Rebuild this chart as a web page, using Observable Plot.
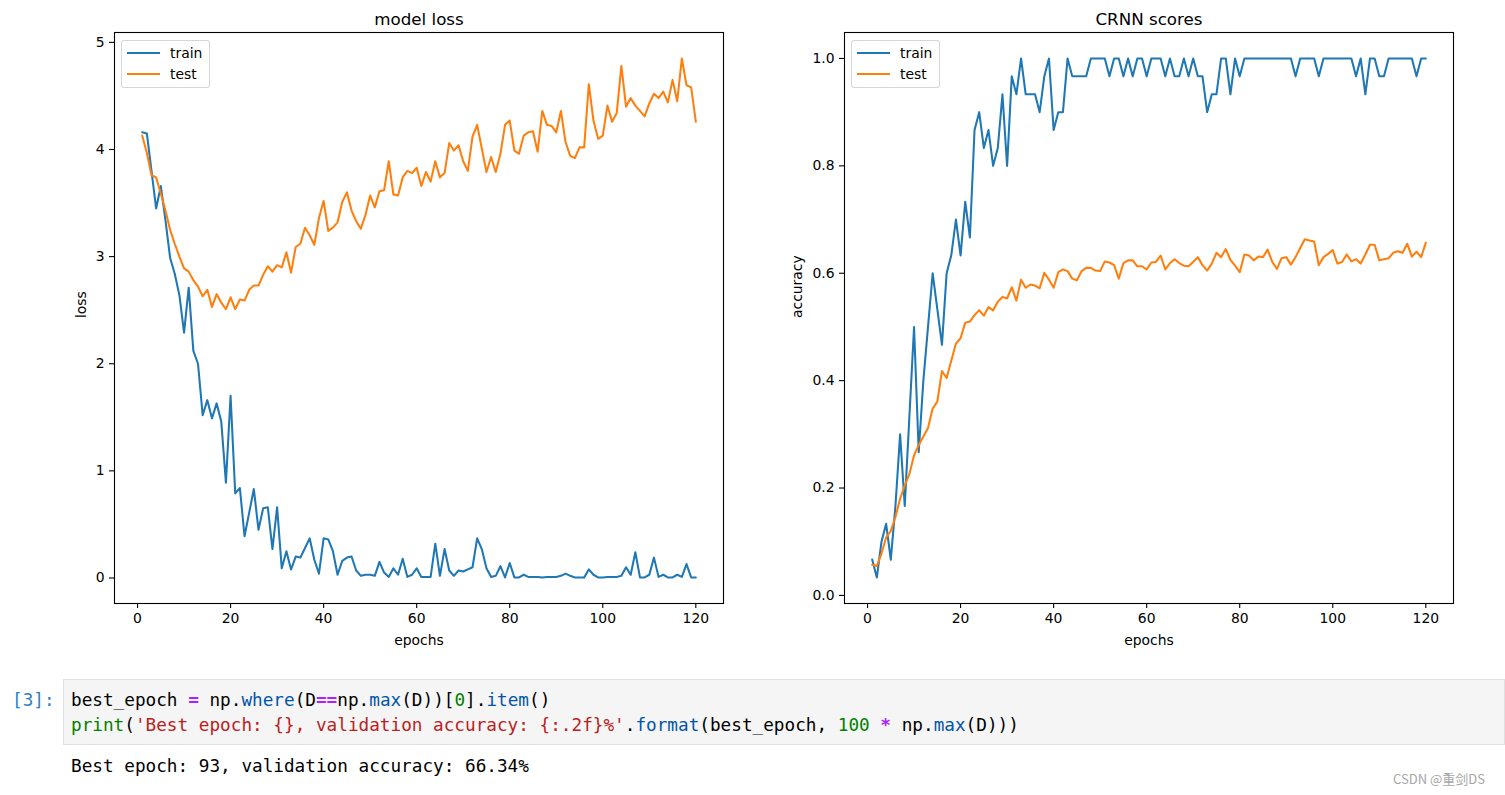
<!DOCTYPE html>
<html><head><meta charset="utf-8">
<script src="https://cdn.jsdelivr.net/npm/d3@7"></script>
<script src="https://cdn.jsdelivr.net/npm/@observablehq/plot@0.6"></script>
<style>
body{margin:0;background:#fff;width:1505px;height:795px;overflow:hidden;position:relative;font-family:"DejaVu Sans",sans-serif;color:#000}
#left{position:absolute;left:0;top:0}
#right{position:absolute;left:760px;top:0}
.legend{position:absolute;background:rgba(255,255,255,0.8);border:1px solid rgba(204,204,204,0.8);border-radius:3px;box-sizing:border-box;font-size:13.9px;width:89px;height:48px;top:40px}
.legend .sw{position:absolute;left:5px;width:33px;height:2px}
.legend .lb{position:absolute;left:48px;line-height:16px;white-space:nowrap}
.mono{font-family:"DejaVu Sans Mono",monospace;font-size:17.7px;line-height:25px;white-space:pre}
#prompt{position:absolute;left:12px;top:688px;color:#307fc1}
#cell{position:absolute;left:63px;top:679px;width:1442px;height:66px;background:#f5f5f5;border:1px solid #e0e0e0;box-sizing:border-box}
#cell pre{margin:0;position:absolute;left:7px;top:8px}
#out{position:absolute;left:71px;top:754px}
.o{color:#aa22ff;font-weight:bold}.p{color:#0055aa}.n{color:#008000}.b{color:#008000}.s{color:#ba2121}
#wm{position:absolute;left:1393px;top:769px;font-family:"Noto Sans CJK SC",sans-serif;font-size:13px;color:#a6a6a6;white-space:nowrap}
</style>
</head><body>
<div id="left"></div>
<div id="right"></div>
<div class="legend" style="left:121px"><div class="sw" style="top:11px;background:#1f77b4"></div><span class="lb" style="top:4px">train</span><div class="sw" style="top:32px;background:#ff7f0e"></div><span class="lb" style="top:25px">test</span></div>
<div class="legend" style="left:851px"><div class="sw" style="top:11px;background:#1f77b4"></div><span class="lb" style="top:4px">train</span><div class="sw" style="top:32px;background:#ff7f0e"></div><span class="lb" style="top:25px">test</span></div>
<div id="prompt" class="mono">[3]:</div>
<div id="cell"><pre class="mono">best_epoch <span class="o">=</span> np.<span class="p">where</span>(D<span class="o">==</span>np.<span class="p">max</span>(D))[<span class="n">0</span>].<span class="p">item</span>()
<span class="b">print</span>(<span class="s">'Best epoch: {}, validation accuracy: {:.2f}%'</span>.<span class="p">format</span>(best_epoch, <span class="n">100</span> <span class="o">*</span> np.<span class="p">max</span>(D)))</pre></div>
<div id="out" class="mono">Best epoch: 93, validation accuracy: 66.34%</div>
<div id="wm">CSDN @重剑DS</div>
<script>
const lossTrain = [4.16,4.15,3.80,3.45,3.66,3.34,2.99,2.84,2.64,2.29,2.71,2.12,2.00,1.52,1.66,1.49,1.63,1.46,0.89,1.70,
0.79,0.84,0.39,0.61,0.83,0.45,0.65,0.66,0.27,0.66,0.09,0.25,0.08,0.20,0.19,0.28,0.37,0.17,0.04,0.37,
0.36,0.25,0.03,0.16,0.19,0.20,0.07,0.02,0.03,0.03,0.02,0.15,0.05,0.01,0.09,0.03,0.18,0.01,0.03,0.09,
0.01,0.01,0.01,0.32,0.02,0.27,0.07,0.02,0.07,0.06,0.08,0.10,0.37,0.27,0.09,0.01,0.02,0.11,0.005,0.14,
0.005,0.005,0.03,0.01,0.01,0.01,0.004,0.01,0.01,0.01,0.02,0.04,0.02,0.005,0.004,0.004,0.08,0.03,0.005,0.005,
0.01,0.01,0.01,0.02,0.10,0.03,0.24,0.005,0.005,0.03,0.19,0.01,0.03,0.005,0.005,0.03,0.01,0.13,0.005,0.004];
const lossTest = [4.13,3.97,3.76,3.74,3.59,3.43,3.25,3.12,3.00,2.89,2.86,2.78,2.72,2.63,2.69,2.53,2.65,2.57,2.51,2.62,
2.51,2.60,2.59,2.69,2.73,2.73,2.83,2.91,2.86,2.92,2.90,3.04,2.85,3.09,3.12,3.27,3.20,3.11,3.36,3.52,
3.24,3.27,3.32,3.51,3.60,3.43,3.33,3.26,3.39,3.57,3.46,3.61,3.62,3.89,3.58,3.57,3.74,3.80,3.78,3.83,
3.66,3.79,3.70,3.89,3.74,3.78,4.06,3.99,4.04,3.89,3.80,4.12,4.23,4.01,3.79,3.93,3.79,3.96,4.23,4.27,
3.99,3.96,4.13,4.16,4.17,3.98,4.36,4.23,4.22,4.16,4.36,4.07,3.94,3.92,4.02,4.02,4.61,4.27,4.10,4.13,
4.41,4.26,4.34,4.78,4.40,4.48,4.41,4.36,4.31,4.43,4.52,4.48,4.54,4.44,4.65,4.45,4.85,4.60,4.58,4.26];
const accTrain = [0.0667,0.0333,0.1,0.1333,0.0667,0.1667,0.3,0.1667,0.3333,0.5,0.2667,0.4,0.5,0.6,0.5333,0.4667,0.6,0.6333,0.7,0.6333,
0.7333,0.6667,0.8667,0.9,0.8333,0.8667,0.8,0.8333,0.9333,0.8,0.9667,0.9333,1,0.9333,0.9333,0.9333,0.9,0.9667,1,0.8667,
0.9,0.9,1,0.9667,0.9667,0.9667,0.9667,1,1,1,1,0.9667,1,1,0.9667,1,0.9667,1,1,0.9667,
1,1,1,0.9667,1,0.9667,0.9667,1,0.9667,1,0.9667,0.9667,0.9,0.9333,0.9333,1,1,0.9333,1,0.9667,
1,1,1,1,1,1,1,1,1,1,1,0.9667,1,1,1,1,0.9667,1,1,1,
1,1,1,1,0.9667,1,0.9333,1,1,0.9667,0.9667,1,1,1,1,1,1,0.9667,1,1];
const accTest = [0.057,0.055,0.078,0.108,0.12,0.146,0.18,0.205,0.226,0.261,0.28,0.296,0.312,0.348,0.361,0.418,0.405,0.437,0.469,0.479,
0.508,0.51,0.522,0.531,0.521,0.537,0.531,0.547,0.556,0.553,0.574,0.549,0.588,0.573,0.579,0.577,0.572,0.601,0.588,0.573,
0.602,0.607,0.604,0.59,0.587,0.604,0.61,0.61,0.605,0.604,0.622,0.62,0.615,0.59,0.619,0.624,0.624,0.613,0.613,0.607,
0.62,0.621,0.633,0.607,0.619,0.626,0.619,0.614,0.613,0.621,0.63,0.615,0.605,0.618,0.638,0.63,0.645,0.625,0.614,0.602,
0.635,0.633,0.624,0.631,0.63,0.644,0.621,0.608,0.628,0.63,0.616,0.63,0.647,0.6634,0.661,0.659,0.615,0.63,0.636,0.643,
0.618,0.621,0.635,0.622,0.626,0.618,0.635,0.653,0.653,0.624,0.626,0.628,0.638,0.641,0.638,0.655,0.631,0.64,0.63,0.657];
const xTicks = [0,20,40,60,80,100,120];
const lossTicks = [0,1,2,3,4,5];
const accTicks = [0,0.2,0.4,0.6,0.8,1.0];
const seriesColors = {train:"#1f77b4", test:"#ff7f0e"};

function pad(vals){const lo=d3.min(vals),hi=d3.max(vals),r=hi-lo;return [lo-0.05*r,hi+0.05*r];}
const toRows = arr => arr.map((v,i)=>({epoch:i+1, value:v}));
const n = lossTrain.length;
const xDomain = [1-0.05*(n-1), n+0.05*(n-1)];

function chart({train,test,title,ylabel,yTicks,yFmt,width,ml,mr}){
  return Plot.plot({
    width, height:660, marginLeft:ml, marginRight:mr, marginTop:32, marginBottom:57,
    style:{fontFamily:"DejaVu Sans", fontSize:"13.9px", color:"#000", background:"transparent", overflow:"visible"},
    x:{domain:xDomain},
    y:{domain:pad(train.concat(test))},
    marks:[
      Plot.line(toRows(train),{x:"epoch",y:"value",stroke:seriesColors.train,strokeWidth:2.05}),
      Plot.line(toRows(test),{x:"epoch",y:"value",stroke:seriesColors.test,strokeWidth:2.05}),
      Plot.frame({stroke:"#000",strokeWidth:1.1}),
      Plot.axisX({ticks:xTicks,tickSize:5,tickPadding:5,label:null,tickFormat:d=>String(d),strokeWidth:1.1}),
      Plot.axisY({ticks:yTicks,tickSize:5,tickPadding:5,label:null,tickFormat:yFmt,strokeWidth:1.1}),
      Plot.text([title],{frameAnchor:"top",text:d=>d,lineAnchor:"bottom",dy:-8,fontSize:16.7}),
      Plot.text(["epochs"],{frameAnchor:"bottom",text:d=>d,lineAnchor:"bottom",dy:41,fontSize:13.9}),
      Plot.text([ylabel],{frameAnchor:"left",text:d=>d,rotate:-90,dx:ml===114?-33:-47,fontSize:13.9})
    ]
  });
}
document.getElementById("left").append(chart({train:lossTrain,test:lossTest,title:"model loss",ylabel:"loss",yTicks:lossTicks,yFmt:d=>String(d),width:740,ml:114,mr:17}));
document.getElementById("right").append(chart({train:accTrain,test:accTest,title:"CRNN scores",ylabel:"accuracy",yTicks:accTicks,yFmt:d3.format(".1f"),width:720,ml:84,mr:27}));
</script>
</body></html>
